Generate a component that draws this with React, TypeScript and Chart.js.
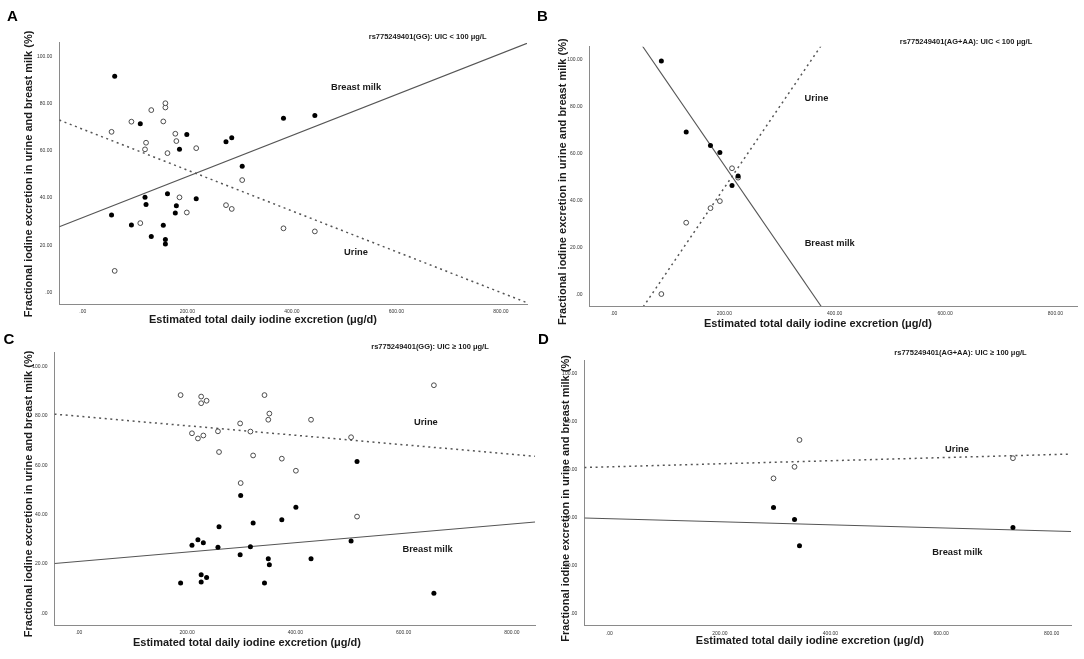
import { useEffect, useRef } from "react";
import { Chart, registerables } from "chart.js";

Chart.register(...registerables);

const FONT = "'Liberation Sans', Arial, sans-serif";

// shared axes
const xTickValues = [0, 200, 400, 600, 800];
const yTickValues = [0, 20, 40, 60, 80, 100];
const yRange = [-4.8, 105.7];
const xTitle = "Estimated total daily iodine excretion (μg/d)";
const yTitle = "Fractional iodine excretion in urine and breast milk (%)";

// A: rs775249401(GG), UIC < 100
const aTotal = [55, 61, 93, 110, 119, 121, 131, 154, 158, 158, 162, 177, 179, 185, 199, 217, 274, 285, 305, 384, 444];
const aMilk = [32.8, 91.5, 28.6, 71.4, 40.3, 37.3, 23.7, 28.5, 22.5, 20.6, 41.8, 33.7, 36.8, 60.6, 66.9, 39.7, 63.8, 65.5, 53.4, 73.7, 74.9];
const aUrine = [68.0, 9.2, 72.3, 29.4, 60.6, 63.4, 77.2, 72.4, 78.3, 80.1, 59.0, 67.2, 64.1, 40.3, 33.9, 61.1, 37.0, 35.4, 47.6, 27.2, 25.9];
const aMilkFit = [31.8, 0.0866]; // intercept, slope
const aUrineFit = [69.1, -0.0863];
const aXRange = [-45, 850];

// B: rs775249401(AG+AA), UIC < 100
const bTotal = [86, 131, 175, 192, 214, 225];
const bMilk = [99.6, 69.3, 63.6, 60.6, 46.5, 50.6];
const bUrine = [0.3, 30.7, 36.9, 39.9, 53.9, 49.9];
const bMilkFit = [123.7, -0.3426];
const bUrineFit = [-23.5, 0.3453];
const bXRange = [-44, 839];

// C: rs775249401(GG), UIC >= 100
const cTotal = [188, 209, 220, 226, 226, 230, 236, 257, 259, 298, 299, 317, 322, 343, 350, 352, 375, 401, 429, 503, 514, 656];
const cMilk = [12.2, 27.6, 29.8, 15.6, 12.7, 28.6, 14.5, 26.8, 35.1, 23.7, 47.8, 27.0, 36.6, 12.2, 22.1, 19.6, 37.9, 43.0, 22.1, 29.3, 61.5, 8.1];
const cUrine = [88.5, 73.0, 70.9, 85.2, 87.9, 72.1, 86.2, 73.8, 65.4, 77.0, 52.8, 73.7, 64.0, 88.5, 78.5, 81.0, 62.7, 57.8, 78.5, 71.4, 39.2, 92.5];
const cMilkFit = [21.0, 0.019];
const cUrineFit = [79.9, -0.01925];
const cXRange = [-45, 843];

// D: rs775249401(AG+AA), UIC >= 100
const dTotal = [297, 335, 344, 730];
const dMilk = [44.3, 39.3, 28.3, 35.9];
const dUrine = [56.4, 61.2, 72.4, 64.8];
const dMilkFit = [39.6, -0.00637];
const dUrineFit = [61.2, 0.00637];
const dXRange = [-45, 835];

type Pt = [number, number];

interface PanelSpec {
  letter: string;
  subtitle: string;
  total: number[];
  milk: number[];
  urine: number[];
  milkFit: number[];
  urineFit: number[];
  xRange: number[];
  box: { left: number; top: number; width: number; height: number };
  area: { left: number; top: number; right: number; bottom: number };
  letterPos: Pt;
  subtitlePos: Pt;
  milkLabel: Pt;
  urineLabel: Pt;
  xTitlePos: Pt;
  yTitlePos: Pt;
}

const panels: PanelSpec[] = [
  {
    letter: "A",
    subtitle: "rs775249401(GG): UIC < 100 μg/L",
    total: aTotal, milk: aMilk, urine: aUrine, milkFit: aMilkFit, urineFit: aUrineFit, xRange: aXRange,
    box: { left: 0, top: 0, width: 540, height: 330 },
    area: { left: 59.3, top: 42.7, right: 527, bottom: 304 },
    letterPos: [7, 20.5], subtitlePos: [427.6, 36.7],
    milkLabel: [356, 87.3], urineLabel: [356, 252.3],
    xTitlePos: [263, 320], yTitlePos: [29.3, 174],
  },
  {
    letter: "B",
    subtitle: "rs775249401(AG+AA): UIC < 100 μg/L",
    total: bTotal, milk: bMilk, urine: bUrine, milkFit: bMilkFit, urineFit: bUrineFit, xRange: bXRange,
    box: { left: 532, top: 0, width: 552, height: 330 },
    area: { left: 57.6, top: 46.7, right: 545, bottom: 306 },
    letterPos: [5, 20.5], subtitlePos: [434, 41.7],
    milkLabel: [297.7, 243], urineLabel: [284.5, 98.3],
    xTitlePos: [286, 324], yTitlePos: [30.6, 181.7],
  },
  {
    letter: "C",
    subtitle: "rs775249401(GG): UIC ≥ 100 μg/L",
    total: cTotal, milk: cMilk, urine: cUrine, milkFit: cMilkFit, urineFit: cUrineFit, xRange: cXRange,
    box: { left: 0, top: 330, width: 540, height: 329 },
    area: { left: 54.5, top: 22.7, right: 540, bottom: 295 },
    letterPos: [3.5, 13.5], subtitlePos: [430, 17.3],
    milkLabel: [427.6, 219.3], urineLabel: [425.9, 92.7],
    xTitlePos: [247, 313.3], yTitlePos: [29.3, 164],
  },
  {
    letter: "D",
    subtitle: "rs775249401(AG+AA): UIC ≥ 100 μg/L",
    total: dTotal, milk: dMilk, urine: dUrine, milkFit: dMilkFit, urineFit: dUrineFit, xRange: dXRange,
    box: { left: 532, top: 330, width: 552, height: 329 },
    area: { left: 52.4, top: 30, right: 539, bottom: 295.3 },
    letterPos: [6, 13.5], subtitlePos: [428.5, 23.3],
    milkLabel: [425.4, 222.3], urineLabel: [425, 119],
    xTitlePos: [277.8, 310.7], yTitlePos: [33.7, 168.5],
  },
];

const fmt = (v: number) => (v === 0 ? ".00" : v.toFixed(2));

function Panel({ spec }: { spec: PanelSpec }) {
  const canvasRef = useRef<HTMLCanvasElement | null>(null);

  useEffect(() => {
    if (!canvasRef.current) return;
    const s = spec;
    const fitLine = (fit: number[]) => s.xRange.map((x) => ({ x, y: fit[0] + fit[1] * x }));

    // panel letter, subtitle, line labels and axis titles
    const panelText = {
      id: "panelText",
      afterDraw(chart: Chart) {
        const ctx = chart.ctx;
        ctx.save();
        ctx.fillStyle = "#000";
        ctx.textAlign = "left";
        ctx.textBaseline = "alphabetic";
        ctx.font = `bold 15px ${FONT}`;
        ctx.fillText(s.letter, s.letterPos[0], s.letterPos[1]);

        ctx.textAlign = "center";
        ctx.textBaseline = "middle";
        ctx.fillStyle = "#1a1a1a";
        ctx.font = `bold 7.5px ${FONT}`;
        ctx.fillText(s.subtitle, s.subtitlePos[0], s.subtitlePos[1]);

        ctx.font = `bold 9.3px ${FONT}`;
        ctx.fillText("Breast milk", s.milkLabel[0], s.milkLabel[1]);
        ctx.fillText("Urine", s.urineLabel[0], s.urineLabel[1]);

        ctx.font = `bold 11px ${FONT}`;
        ctx.fillText(xTitle, s.xTitlePos[0], s.xTitlePos[1]);
        ctx.translate(s.yTitlePos[0], s.yTitlePos[1]);
        ctx.rotate(-Math.PI / 2);
        ctx.fillText(yTitle, 0, 0);
        ctx.restore();
      },
    };

    const chart = new Chart(canvasRef.current, {
      type: "scatter",
      data: {
        datasets: [
          {
            label: "Breast milk",
            data: s.total.map((x, i) => ({ x, y: s.milk[i] })),
            pointRadius: 2.5,
            backgroundColor: "#000",
            borderColor: "#000",
            borderWidth: 0,
          },
          {
            label: "Urine",
            data: s.total.map((x, i) => ({ x, y: s.urine[i] })),
            pointRadius: 2.4,
            backgroundColor: "#fff",
            borderColor: "#3a3a3a",
            borderWidth: 0.9,
          },
          {
            label: "Breast milk fit",
            data: fitLine(s.milkFit),
            showLine: true,
            pointRadius: 0,
            borderColor: "#555",
            borderWidth: 1.1,
          },
          {
            label: "Urine fit",
            data: fitLine(s.urineFit),
            showLine: true,
            pointRadius: 0,
            borderColor: "#555",
            borderWidth: 1.5,
            borderDash: [2, 3.6],
          },
        ],
      },
      options: {
        animation: false,
        responsive: true,
        maintainAspectRatio: false,
        events: [],
        layout: {
          padding: { top: s.area.top, right: s.box.width - s.area.right, left: 0, bottom: 0 },
        },
        plugins: { legend: { display: false }, tooltip: { enabled: false } },
        scales: {
          x: {
            type: "linear",
            min: s.xRange[0],
            max: s.xRange[1],
            afterBuildTicks: (scale: any) => {
              scale.ticks = xTickValues.map((value) => ({ value }));
            },
            afterFit: (scale: any) => {
              scale.height = s.box.height - s.area.bottom;
            },
            grid: { display: false, drawTicks: false },
            border: { display: true, color: "#8a8a8a", width: 1 },
            ticks: {
              autoSkip: false,
              maxRotation: 0,
              padding: 5,
              color: "#333",
              font: { family: FONT, size: 5 },
              callback: (v: any) => fmt(Number(v)),
            },
          },
          y: {
            type: "linear",
            min: yRange[0],
            max: yRange[1],
            afterBuildTicks: (scale: any) => {
              scale.ticks = yTickValues.map((value) => ({ value }));
            },
            afterFit: (scale: any) => {
              scale.width = s.area.left;
            },
            grid: { display: false, drawTicks: false },
            border: { display: true, color: "#8a8a8a", width: 1 },
            ticks: {
              autoSkip: false,
              padding: 7,
              color: "#333",
              font: { family: FONT, size: 5 },
              callback: (v: any) => fmt(Number(v)),
            },
          },
        },
      },
      plugins: [panelText],
    });

    return () => {
      chart.destroy();
    };
  }, [spec]);

  return (
    <div
      style={{
        position: "absolute",
        left: spec.box.left,
        top: spec.box.top,
        width: spec.box.width,
        height: spec.box.height,
      }}
    >
      <canvas ref={canvasRef} />
    </div>
  );
}

export default function App() {
  return (
    <div
      style={{
        position: "absolute",
        left: 0,
        top: 0,
        width: 1084,
        height: 659,
        background: "#fff",
        overflow: "hidden",
      }}
    >
      {panels.map((p) => (
        <Panel key={p.letter} spec={p} />
      ))}
    </div>
  );
}
